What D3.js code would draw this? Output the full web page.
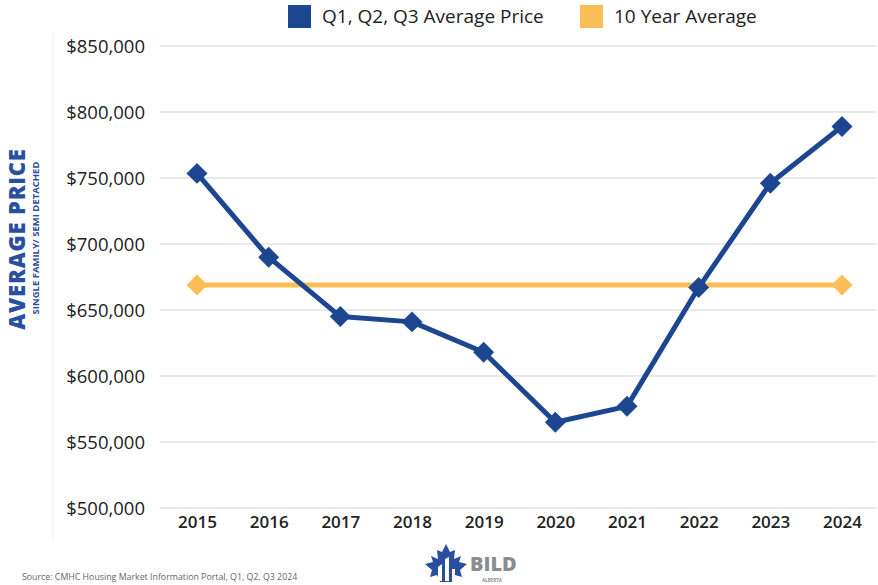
<!DOCTYPE html>
<html>
<head>
<meta charset="utf-8">
<script src="https://cdn.jsdelivr.net/npm/d3@7"></script>
<style>
  body { margin: 0; background: #fff; }
  text { font-family: "Open Sans", sans-serif; }
</style>
</head>
<body>
<script>
// data
var years = ["2015", "2016", "2017", "2018", "2019", "2020", "2021", "2022", "2023", "2024"];
var avgPrice = [753500, 690000, 645000, 641000, 618000, 565000, 577000, 667000, 746000, 789000];
var tenYearAvg = 669000;
var yTicks = [500000, 550000, 600000, 650000, 700000, 750000, 800000, 850000];
var seriesNames = ["Q1, Q2, Q3 Average Price", "10 Year Average"];

var blue = "#1d4690", orange = "#fbbd55";

var svg = d3.select("body").append("svg")
    .attr("width", 878).attr("height", 585);

var x = d3.scalePoint().domain(years).range([197, 842]);
var y = d3.scaleLinear().domain([500000, 850000]).range([508, 46]);

// faint left rule
svg.append("line").attr("x1", 53).attr("x2", 53).attr("y1", 33).attr("y2", 540)
    .attr("stroke", "#f0f0f0").attr("stroke-width", 1);

// grid
svg.append("g").selectAll("line").data(yTicks).enter().append("line")
    .attr("x1", 160).attr("x2", 876)
    .attr("y1", function(d){ return y(d); }).attr("y2", function(d){ return y(d); })
    .attr("stroke", "#e9e9e9").attr("stroke-width", 2);

// y axis labels
var yAxis = d3.axisLeft(y).tickValues(yTicks).tickSize(0).tickPadding(0)
    .tickFormat(function(d){ return "$" + d3.format(",")(d); });
var ga = svg.append("g").attr("transform", "translate(145,0)").call(yAxis);
ga.select(".domain").remove();
ga.selectAll("text").attr("font-family", "Open Sans, sans-serif").attr("font-size", 18.5)
    .attr("font-weight", 500).attr("fill", "#222").attr("dy", "0.34em");

// x axis labels
var xAxis = d3.axisBottom(x).tickSize(0).tickPadding(0);
var gx = svg.append("g").attr("transform", "translate(0,516)").call(xAxis);
gx.select(".domain").remove();
gx.selectAll("text").attr("font-family", "Open Sans, sans-serif").attr("font-size", 17)
    .attr("font-weight", 600).attr("fill", "#222");

// y title
svg.append("text").attr("transform", "translate(24.5,239) rotate(-90)")
    .attr("text-anchor", "middle").attr("font-size", 22).attr("font-weight", 800)
    .attr("letter-spacing", 0.8)
    .attr("fill", "#2a4f9e").text("AVERAGE PRICE");
svg.append("text").attr("transform", "translate(38.5,238) rotate(-90)")
    .attr("text-anchor", "middle").attr("font-size", 9.5).attr("font-weight", 700)
    .attr("fill", "#2a4f9e").text("SINGLE FAMILY/ SEMI DETACHED");

var diamond = d3.symbol().type(d3.symbolSquare).size(220);

// 10 year average
var avgPts = [years[0], years[years.length - 1]];
svg.append("line")
    .attr("x1", x(avgPts[0])).attr("x2", x(avgPts[1]))
    .attr("y1", y(tenYearAvg)).attr("y2", y(tenYearAvg))
    .attr("stroke", orange).attr("stroke-width", 5);
svg.append("g").selectAll("path").data(avgPts).enter().append("path")
    .attr("d", diamond)
    .attr("transform", function(d){ return "translate(" + x(d) + "," + y(tenYearAvg) + ") rotate(45)"; })
    .attr("fill", orange);

// average price line
var line = d3.line()
    .x(function(d, i){ return x(years[i]); })
    .y(function(d){ return y(d); });
svg.append("path").datum(avgPrice).attr("d", line)
    .attr("fill", "none").attr("stroke", blue).attr("stroke-width", 5)
    .attr("stroke-linejoin", "round");
svg.append("g").selectAll("path").data(avgPrice).enter().append("path")
    .attr("d", diamond)
    .attr("transform", function(d, i){ return "translate(" + x(years[i]) + "," + y(d) + ") rotate(45)"; })
    .attr("fill", blue);

// legend
var legX = [288, 580], legColors = [blue, orange];
var leg = svg.append("g").selectAll("g").data(seriesNames).enter().append("g")
    .attr("transform", function(d, i){ return "translate(" + legX[i] + ",5)"; });
leg.append("rect").attr("width", 23).attr("height", 23).attr("fill", function(d, i){ return legColors[i]; });
leg.append("text").attr("x", 34).attr("y", 18).attr("font-size", 19).attr("font-weight", 500)
    .attr("fill", "#222").text(function(d){ return d; });

// source
svg.append("text").attr("x", 22).attr("y", 580).attr("font-size", 8.8)
    .attr("fill", "#666").text("Source: CMHC Housing Market Information Portal, Q1, Q2, Q3 2024");

// logo
var logo = svg.append("g").attr("transform", "translate(446,565)");
logo.append("path").attr("fill", "#2a4f9e")
    .attr("d", "M0,-21 L4,-13 L9,-15 L8,-6 L15,-9 L13,-3 L21,-1 L14,5 L16,12 L9,10 L6,17 L-6,17 L-9,10 L-16,12 L-14,5 L-21,-1 L-13,-3 L-15,-9 L-8,-6 L-9,-15 L-4,-13 Z");
logo.append("path").attr("fill", "#fff")
    .attr("d", "M-8,16 L-8,2 L-4,-1 L-4,16 Z M-1,16 L-1,-6 L3,-8 L3,16 Z M6,16 L6,4 L9,4 L9,16 Z");
logo.append("text").attr("x", 24).attr("y", 6).attr("font-size", 20).attr("font-weight", 800)
    .attr("fill", "#8a8d92").text("BILD");
logo.append("text").attr("x", 36).attr("y", 17).attr("font-size", 4.5).attr("font-weight", 700)
    .attr("fill", "#8a8d92").text("ALBERTA");
</script>
</body>
</html>
